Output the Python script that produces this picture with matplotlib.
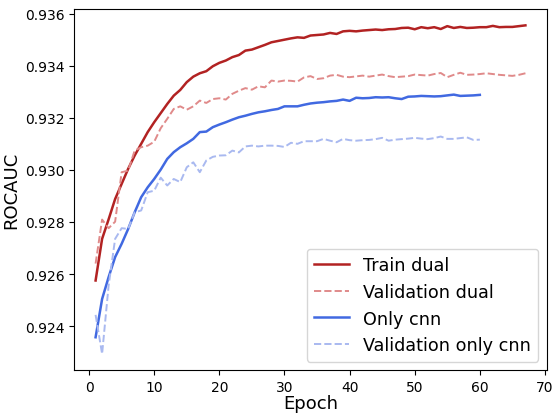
import matplotlib
matplotlib.use('Agg')
import matplotlib.pyplot as plt

# ROCAUC per epoch
train_dual = [0.92575, 0.92735, 0.92810, 0.92888, 0.92946, 0.93004, 0.93055, 0.93100, 0.93145, 0.93183,
              0.93218, 0.93253, 0.93285, 0.93307, 0.93337, 0.93358, 0.93371, 0.93379, 0.93398, 0.93411,
              0.93420, 0.93433, 0.93441, 0.93458, 0.93462, 0.93471, 0.93480, 0.93490, 0.93495, 0.93500,
              0.93505, 0.93509, 0.93507, 0.93516, 0.93518, 0.93520, 0.93526, 0.93522, 0.93532, 0.93534,
              0.93532, 0.93535, 0.93537, 0.93539, 0.93537, 0.93540, 0.93541, 0.93545, 0.93546, 0.93540,
              0.93548, 0.93544, 0.93548, 0.93541, 0.93552, 0.93545, 0.93549, 0.93545, 0.93546, 0.93548,
              0.93548, 0.93553, 0.93548, 0.93549, 0.93549, 0.93552, 0.93555]
val_dual = [0.92640, 0.92809, 0.92776, 0.92801, 0.92991, 0.92997, 0.93074, 0.93087, 0.93093, 0.93108,
            0.93160, 0.93196, 0.93234, 0.93244, 0.93231, 0.93244, 0.93266, 0.93257, 0.93272, 0.93275,
            0.93270, 0.93292, 0.93304, 0.93314, 0.93308, 0.93321, 0.93317, 0.93343, 0.93339, 0.93343,
            0.93342, 0.93339, 0.93355, 0.93360, 0.93349, 0.93352, 0.93362, 0.93365, 0.93358, 0.93356,
            0.93359, 0.93362, 0.93358, 0.93362, 0.93366, 0.93360, 0.93356, 0.93358, 0.93360, 0.93366,
            0.93364, 0.93362, 0.93368, 0.93372, 0.93356, 0.93365, 0.93373, 0.93365, 0.93366, 0.93368,
            0.93371, 0.93368, 0.93365, 0.93363, 0.93361, 0.93365, 0.93371]
only_cnn = [0.92357, 0.92504, 0.92588, 0.92665, 0.92716, 0.92773, 0.92837, 0.92895, 0.92933, 0.92965,
            0.93001, 0.93042, 0.93068, 0.93087, 0.93102, 0.93119, 0.93145, 0.93147, 0.93164, 0.93174,
            0.93183, 0.93193, 0.93202, 0.93208, 0.93215, 0.93221, 0.93225, 0.93230, 0.93234, 0.93244,
            0.93244, 0.93244, 0.93250, 0.93255, 0.93258, 0.93260, 0.93263, 0.93265, 0.93270, 0.93265,
            0.93277, 0.93275, 0.93276, 0.93279, 0.93278, 0.93279, 0.93275, 0.93272, 0.93281, 0.93282,
            0.93284, 0.93283, 0.93282, 0.93283, 0.93286, 0.93289, 0.93284, 0.93285, 0.93286, 0.93288]
val_cnn = [0.92443, 0.92293, 0.92556, 0.92735, 0.92776, 0.92773, 0.92837, 0.92844, 0.92914, 0.92920,
           0.92970, 0.92940, 0.92965, 0.92953, 0.93010, 0.93029, 0.92991, 0.93036, 0.93050, 0.93055,
           0.93056, 0.93074, 0.93067, 0.93090, 0.93093, 0.93090, 0.93093, 0.93093, 0.93092, 0.93088,
           0.93104, 0.93100, 0.93110, 0.93110, 0.93110, 0.93119, 0.93112, 0.93106, 0.93119, 0.93114,
           0.93112, 0.93114, 0.93115, 0.93118, 0.93123, 0.93112, 0.93116, 0.93118, 0.93120, 0.93123,
           0.93120, 0.93118, 0.93122, 0.93128, 0.93119, 0.93119, 0.93122, 0.93125, 0.93115, 0.93116]

ep_dual = list(range(1, len(train_dual) + 1))
ep_cnn = list(range(1, len(only_cnn) + 1))

fig = plt.figure(figsize=(5.53, 4.14), dpi=100)
plt.subplots_adjust(left=0.134, right=0.989, top=0.976, bottom=0.103)
ax = plt.gca()

ax.plot(ep_dual, train_dual, color='#b22222', lw=1.8, label='Train dual')
ax.plot(ep_dual, val_dual, color='#e08a8a', lw=1.4, ls='--', label='Validation dual')
ax.plot(ep_cnn, only_cnn, color='#4169e1', lw=1.8, label='Only cnn')
ax.plot(ep_cnn, val_cnn, color='#a9b9f0', lw=1.4, ls='--', label='Validation only cnn')

ax.set_xticks([0, 10, 20, 30, 40, 50, 60, 70])
ax.set_yticks([0.924, 0.926, 0.928, 0.930, 0.932, 0.934, 0.936])
ax.tick_params(labelsize=10)
ax.set_xlabel('Epoch', fontsize=13, labelpad=0)
ax.set_ylabel('ROCAUC', fontsize=13, labelpad=3)
ax.legend(loc='lower right', fontsize=12.7)

plt.savefig('out.png', dpi=100)
